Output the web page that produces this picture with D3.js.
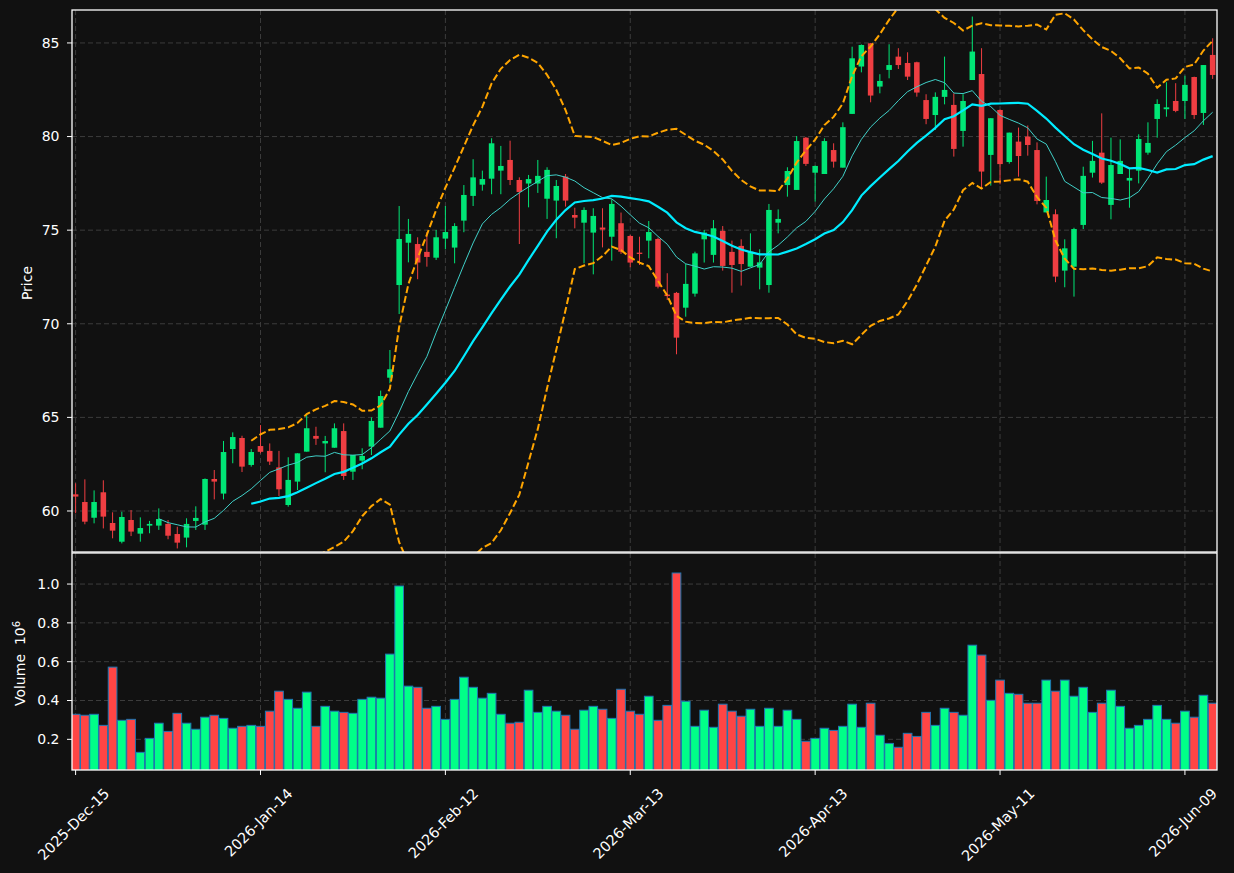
<!DOCTYPE html>
<html>
<head>
<meta charset="utf-8">
<script src="https://cdn.jsdelivr.net/npm/d3@7/dist/d3.min.js"></script>
<style>
  body { margin: 0; background: #111111; }
  text { font-family: 'DejaVu Sans', sans-serif; }
</style>
</head>
<body>
<script>
const w = 1234;
const h = 873;

// x tick positions (candle index) and their labels
const tickIdx = [0, 20, 40, 60, 80, 100, 120];
const tickLabels = ['2025-Dec-15', '2026-Jan-14', '2026-Feb-12', '2026-Mar-13',
  '2026-Apr-13', '2026-May-11', '2026-Jun-09'];

const opens = [60.89, 60.48, 59.64, 61.00, 59.36, 58.36, 59.52, 58.79, 59.22, 59.22,
  59.31, 58.77, 58.58, 59.47, 59.27, 61.71, 60.93, 63.31, 63.90, 62.46,
  63.47, 63.21, 62.33, 60.32, 61.57, 63.17, 64.01, 63.61, 63.38, 64.27,
  62.10, 62.69, 63.44, 64.45, 67.12, 72.07, 74.33, 74.26, 73.84, 73.53,
  74.55, 74.07, 75.51, 76.83, 77.43, 77.75, 78.18, 78.75, 77.68, 77.49,
  77.49, 76.68, 76.58, 77.86, 75.81, 75.40, 74.87, 75.14, 74.65, 75.37,
  74.69, 73.80, 74.44, 74.53, 71.56, 71.65, 70.86, 71.61, 74.51, 73.68,
  74.96, 73.84, 74.16, 73.05, 73.00, 72.07, 75.40, 77.41, 77.15, 79.94,
  78.07, 78.00, 79.28, 78.34, 81.21, 83.74, 84.98, 82.67, 83.56, 84.27,
  83.93, 83.97, 81.95, 81.15, 82.12, 81.69, 80.30, 83.02, 83.34, 79.02,
  81.42, 78.64, 79.73, 80.00, 79.28, 75.95, 75.85, 72.84, 73.05, 75.28,
  78.07, 79.14, 76.35, 78.00, 77.65, 78.18, 79.14, 80.94, 81.46, 81.90,
  81.90, 83.18, 81.26, 84.36];

const highs = [61.48, 61.69, 61.10, 61.64, 59.93, 59.96, 60.05, 59.66, 59.47, 60.14,
  59.52, 59.16, 59.61, 60.25, 61.74, 62.19, 63.74, 64.20, 64.02, 63.31,
  64.59, 63.61, 63.21, 62.87, 63.08, 65.13, 64.50, 64.01, 64.68, 64.68,
  62.99, 63.35, 65.00, 66.43, 68.60, 76.29, 75.60, 74.62, 74.89, 75.01,
  76.29, 75.37, 77.41, 78.79, 78.18, 79.91, 79.50, 79.78, 77.82, 77.95,
  78.75, 78.36, 77.68, 78.00, 76.20, 76.22, 76.17, 76.17, 76.65, 75.94,
  74.75, 74.65, 75.49, 74.60, 72.70, 71.70, 73.19, 73.85, 75.01, 75.54,
  75.22, 74.44, 74.51, 74.83, 73.98, 76.40, 76.11, 78.36, 80.03, 79.98,
  78.45, 79.91, 79.64, 80.76, 84.80, 84.92, 85.00, 83.33, 84.93, 84.72,
  84.50, 84.00, 82.26, 82.36, 84.27, 82.31, 82.26, 86.41, 84.72, 80.98,
  81.45, 80.21, 80.48, 80.59, 79.69, 77.86, 76.11, 74.51, 75.13, 78.39,
  79.77, 81.24, 79.94, 79.85, 78.30, 80.12, 80.76, 81.99, 82.90, 82.85,
  83.25, 83.20, 83.82, 85.25];

const lows = [59.88, 59.29, 59.34, 59.07, 58.54, 58.27, 58.66, 58.36, 58.81, 58.99,
  58.49, 58.00, 58.06, 58.99, 58.99, 60.62, 60.62, 62.55, 62.08, 62.37,
  63.08, 62.46, 60.80, 60.23, 61.12, 63.17, 63.53, 62.07, 63.38, 61.66,
  61.66, 62.23, 62.99, 64.45, 66.82, 70.52, 73.28, 72.38, 73.05, 73.41,
  73.98, 73.23, 74.89, 76.29, 77.11, 76.92, 76.92, 77.41, 74.26, 76.22,
  76.99, 75.60, 74.57, 76.26, 75.10, 73.23, 72.64, 74.08, 73.37, 73.73,
  73.02, 73.14, 73.50, 71.89, 71.27, 68.37, 70.38, 71.45, 73.27, 73.27,
  72.84, 71.66, 72.04, 73.05, 71.84, 71.66, 74.83, 76.79, 77.15, 78.43,
  76.52, 78.00, 78.34, 78.34, 81.21, 83.43, 81.83, 82.31, 83.11, 83.61,
  83.02, 82.13, 80.66, 80.35, 81.72, 78.93, 79.46, 83.02, 77.27, 77.38,
  77.45, 78.55, 77.86, 78.98, 76.38, 75.95, 72.22, 71.95, 71.45, 75.06,
  77.81, 77.47, 75.58, 78.00, 76.20, 77.50, 79.03, 79.94, 81.06, 81.30,
  80.94, 80.94, 80.62, 83.08];

const closes = [60.77, 59.43, 60.48, 59.70, 58.95, 59.68, 58.90, 59.09, 59.31, 59.57,
  58.68, 58.31, 59.31, 59.63, 61.71, 61.57, 63.15, 63.95, 62.37, 63.15,
  63.16, 62.64, 61.16, 61.66, 63.08, 64.42, 63.86, 63.74, 64.42, 61.87,
  62.99, 62.94, 64.81, 66.14, 67.57, 74.53, 74.80, 73.27, 73.57, 74.62,
  74.90, 75.22, 76.88, 77.82, 77.73, 79.64, 78.43, 77.68, 77.04, 77.73,
  77.90, 78.22, 77.36, 76.58, 75.67, 76.08, 75.76, 75.03, 76.40, 73.85,
  73.27, 73.73, 74.90, 71.98, 71.48, 69.26, 72.13, 73.76, 74.87, 75.10,
  73.09, 73.14, 73.19, 73.85, 73.28, 76.08, 75.60, 78.16, 79.76, 78.54,
  78.43, 79.76, 78.66, 80.50, 84.18, 84.89, 82.19, 82.97, 83.82, 83.82,
  83.20, 82.35, 80.94, 82.12, 82.49, 79.34, 81.90, 84.54, 78.13, 80.98,
  78.53, 80.21, 78.96, 79.55, 76.56, 76.61, 72.52, 74.03, 75.06, 77.90,
  78.70, 77.54, 78.48, 78.70, 77.79, 79.87, 79.66, 81.74, 81.56, 81.37,
  82.76, 81.15, 83.82, 83.29];

const volumes = [329000, 324000, 329000, 272000, 572000, 298000, 303000, 133000, 205000, 283000,
  241000, 334000, 283000, 252000, 314000, 324000, 308000, 257000, 267000, 272000,
  267000, 345000, 448000, 406000, 360000, 443000, 267000, 370000, 345000, 339000,
  334000, 406000, 417000, 412000, 639000, 990000, 474000, 468000, 360000, 370000,
  303000, 406000, 520000, 468000, 412000, 437000, 329000, 283000, 288000, 453000,
  339000, 370000, 345000, 324000, 252000, 350000, 370000, 355000, 308000, 458000,
  345000, 329000, 422000, 298000, 375000, 1057000, 396000, 267000, 350000, 262000,
  381000, 345000, 319000, 355000, 267000, 360000, 267000, 350000, 303000, 190000,
  205000, 257000, 246000, 267000, 381000, 262000, 386000, 221000, 179000, 159000,
  231000, 215000, 339000, 272000, 360000, 339000, 324000, 685000, 634000, 401000,
  505000, 437000, 432000, 386000, 386000, 505000, 448000, 505000, 422000, 468000,
  339000, 386000, 453000, 370000, 257000, 272000, 303000, 375000, 303000, 283000,
  345000, 314000, 427000, 386000];

const upCandle = '#00e676', downCandle = '#ef3e42';
const upVol = '#00ff88', downVol = '#ff4545';
const gridColor = '#3c3c3c';

// rolling mean / std of the closes (mav lines and bands)
function rolling(vals, n, fn) {
  return vals.map((v, i) => i < n - 1 ? null : fn(vals.slice(i - n + 1, i + 1)));
}
const ma10 = rolling(closes, 10, d3.mean);
const ma20 = rolling(closes, 20, d3.mean);
const sd20 = rolling(closes, 20, d3.deviation);
const upper = ma20.map((m, i) => m === null ? null : m + 2 * sd20[i]);
const lower = ma20.map((m, i) => m === null ? null : m - 2 * sd20[i]);

const left = 72, right = 1217;
const pTop = 10, pBot = 552, vTop = 553, vBot = 770;

const x = d3.scaleLinear().domain([-0.39, 123.47]).range([left, right]);
const yP = d3.scaleLinear().domain([57.81, 86.76]).range([pBot, pTop]);
const yV = d3.scaleLinear().domain([42000, 1160000]).range([vBot, vTop]);
const step = x(1) - x(0);

const svg = d3.select('body')
  .append('svg')
  .attr('width', w)
  .attr('height', h)
  .style('background', '#111111');

const defs = svg.append('defs');
defs.append('clipPath').attr('id', 'clipP')
  .append('rect').attr('x', left).attr('y', pTop).attr('width', right - left).attr('height', pBot - pTop);
defs.append('clipPath').attr('id', 'clipV')
  .append('rect').attr('x', left).attr('y', vTop).attr('width', right - left).attr('height', vBot - vTop);

// grids
const grid = svg.append('g')
  .attr('stroke', gridColor)
  .attr('stroke-dasharray', '5,3')
  .attr('stroke-width', 1);
grid.selectAll('.gxp').data(tickIdx).enter().append('line')
  .attr('x1', d => x(d)).attr('x2', d => x(d)).attr('y1', pTop).attr('y2', pBot);
grid.selectAll('.gxv').data(tickIdx).enter().append('line')
  .attr('x1', d => x(d)).attr('x2', d => x(d)).attr('y1', vTop).attr('y2', vBot);
const priceTicks = [60, 65, 70, 75, 80, 85];
const volTicks = [200000, 400000, 600000, 800000, 1000000];
grid.selectAll('.gyp').data(priceTicks).enter().append('line')
  .attr('x1', left).attr('x2', right).attr('y1', d => yP(d)).attr('y2', d => yP(d));
grid.selectAll('.gyv').data(volTicks).enter().append('line')
  .attr('x1', left).attr('x2', right).attr('y1', d => yV(d)).attr('y2', d => yV(d));

const idx = d3.range(closes.length);

// candles
const cg = svg.append('g').attr('clip-path', 'url(#clipP)');
cg.selectAll('line.wick')
  .data(idx)
  .enter()
  .append('line')
  .attr('x1', i => x(i)).attr('x2', i => x(i))
  .attr('y1', i => yP(highs[i])).attr('y2', i => yP(lows[i]))
  .attr('stroke', i => closes[i] >= opens[i] ? upCandle : downCandle)
  .attr('stroke-width', 1);
const bw = step * 0.6;
cg.selectAll('rect.body')
  .data(idx)
  .enter()
  .append('rect')
  .attr('x', i => x(i) - bw / 2)
  .attr('width', bw)
  .attr('y', i => yP(Math.max(opens[i], closes[i])))
  .attr('height', i => Math.max(1, Math.abs(yP(opens[i]) - yP(closes[i]))))
  .attr('fill', i => closes[i] >= opens[i] ? upCandle : downCandle);

// moving averages and bands
const lineOf = arr => d3.line()
  .defined(i => arr[i] !== null)
  .x(i => x(i))
  .y(i => yP(arr[i]));
cg.append('path').attr('d', lineOf(ma10)(idx))
  .attr('fill', 'none').attr('stroke', '#40d0c8').attr('stroke-width', 1);
cg.append('path').attr('d', lineOf(ma20)(idx))
  .attr('fill', 'none').attr('stroke', '#00ecff').attr('stroke-width', 2.2);
[upper, lower].forEach(b => {
  cg.append('path').attr('d', lineOf(b)(idx))
    .attr('fill', 'none').attr('stroke', '#ffa500').attr('stroke-width', 2)
    .attr('stroke-dasharray', '7,3');
});

// volume
const vg = svg.append('g').attr('clip-path', 'url(#clipV)');
vg.selectAll('rect')
  .data(idx)
  .enter()
  .append('rect')
  .attr('x', i => x(i) - step * 0.47)
  .attr('width', step * 0.94)
  .attr('y', i => yV(volumes[i]))
  .attr('height', i => yV(0) - yV(volumes[i]))
  .attr('fill', i => closes[i] >= opens[i] ? upVol : downVol)
  .attr('stroke', '#1f77b4')
  .attr('stroke-width', 1);

// frames
[[pTop, pBot], [vTop, vBot]].forEach(([t, b]) => {
  svg.append('rect')
    .attr('x', left).attr('y', t)
    .attr('width', right - left).attr('height', b - t)
    .attr('fill', 'none').attr('stroke', '#ffffff').attr('stroke-width', 1.3);
});

// y ticks
const yTickG = svg.append('g').attr('fill', '#ffffff').style('font-size', '14px');
yTickG.selectAll('.tp').data(priceTicks).enter().append('line')
  .attr('x1', left - 5).attr('x2', left).attr('y1', d => yP(d)).attr('y2', d => yP(d))
  .attr('stroke', '#ffffff');
yTickG.selectAll('.tpl').data(priceTicks).enter().append('text')
  .attr('x', left - 12.5).attr('y', d => yP(d)).attr('dy', '0.35em')
  .attr('text-anchor', 'end').text(d => d);
yTickG.selectAll('.tv').data(volTicks).enter().append('line')
  .attr('x1', left - 5).attr('x2', left).attr('y1', d => yV(d)).attr('y2', d => yV(d))
  .attr('stroke', '#ffffff');
yTickG.selectAll('.tvl').data(volTicks).enter().append('text')
  .attr('x', left - 12.5).attr('y', d => yV(d)).attr('dy', '0.35em')
  .attr('text-anchor', 'end').text(d => (d / 1e6).toFixed(1));

// x ticks
const xTickG = svg.append('g').attr('fill', '#ffffff').style('font-size', '14.5px');
xTickG.selectAll('line').data(tickIdx).enter().append('line')
  .attr('x1', d => x(d)).attr('x2', d => x(d)).attr('y1', vBot).attr('y2', vBot + 5)
  .attr('stroke', '#ffffff');
xTickG.selectAll('text').data(tickIdx).enter().append('text')
  .attr('text-anchor', 'middle')
  .attr('dy', '0.35em')
  .text((d, i) => tickLabels[i])
  .attr('transform', function (d) {
    const L = this.getComputedTextLength();
    const bh = (L + 14) * Math.SQRT1_2;
    return `translate(${x(d) - 2},${vBot + 16 + bh / 2}) rotate(-45)`;
  });

// axis labels
svg.append('text')
  .attr('transform', `translate(27,${(pTop + pBot) / 2 + 2}) rotate(-90)`)
  .attr('text-anchor', 'middle').attr('dy', '0.35em')
  .attr('fill', '#ffffff').style('font-size', '14px')
  .text('Price');
const vl = svg.append('text')
  .attr('transform', `translate(20,${(vTop + vBot) / 2 + 2}) rotate(-90)`)
  .attr('text-anchor', 'middle').attr('dy', '0.35em')
  .attr('fill', '#ffffff').style('font-size', '14px');
vl.append('tspan').text('Volume\u00a0\u00a010');
vl.append('tspan').attr('dy', '-0.45em').style('font-size', '10px').text('6');
</script>
</body>
</html>
